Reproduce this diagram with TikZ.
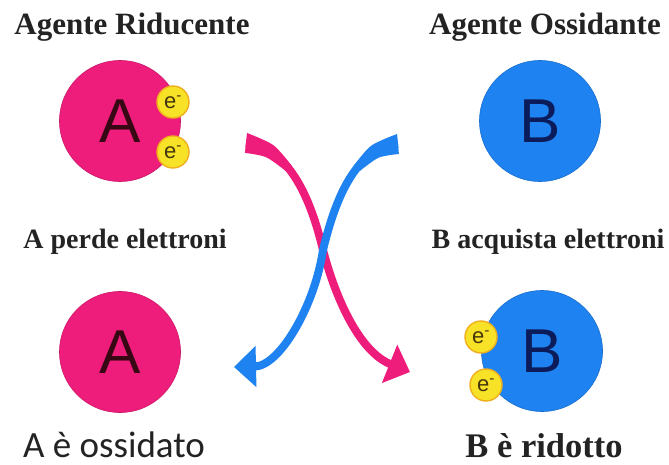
\documentclass[tikz,border=0pt]{standalone}
\usepackage{fontspec}
\setmainfont{Liberation Serif}
\newfontfamily\atomfont{Liberation Sans}
\newfontfamily\capfont{Carlito}
\usetikzlibrary{arrows.meta, positioning}

\definecolor{redpink}{RGB}{238,28,122}
\definecolor{oxblue}{RGB}{30,130,240}
\definecolor{Adark}{RGB}{55,8,20}
\definecolor{Bdark}{RGB}{12,28,90}
\definecolor{elecyellow}{RGB}{247,226,40}
\definecolor{elecorange}{RGB}{240,175,30}
\definecolor{electext}{RGB}{70,55,10}
\definecolor{labelgray}{RGB}{35,35,35}

\begin{document}
\begin{tikzpicture}[
    x=1pt, y=-1pt,
    atom/.style={circle, inner sep=0pt, minimum size=121pt,
                 font=\atomfont\fontsize{62}{62}\selectfont},
    atomA/.style={atom, fill=redpink, draw=redpink!85!black, line width=0.6pt, text=Adark},
    atomB/.style={atom, fill=oxblue, draw=oxblue!85!black, line width=0.6pt, text=Bdark},
    elec/.style={circle, inner sep=0pt, minimum size=32pt, fill=elecyellow,
                 draw=elecorange, line width=1.4pt, text=electext,
                 font=\atomfont\fontsize{22}{22}\selectfont},
    title/.style={anchor=base, text=labelgray, font=\bfseries\fontsize{31}{31}\selectfont},
    step label/.style={anchor=base, text=labelgray, font=\bfseries\fontsize{28}{28}\selectfont},
    flow/.style={line width=8pt, -{Triangle[width=40pt,length=22pt]}}
]
\useasboundingbox[fill=white] (0,0) rectangle (669,465);

% Atoms before the transfer
\node[atomA] (a0) at (120,121) {A};
\node[elec] (ea1) at (173,102) {e\textsuperscript{-}};
\node[elec] (ea2) at (173,152) {e\textsuperscript{-}};
\node[atomB] (b0) at (540,121) {B};

% Atoms after the transfer
\node[atomA] (a1) at (120,352) {A};
\node[atomB] (b1) at (542,351) {B};
\node[elec] (eb1) at (481,337) {e\textsuperscript{-}};
\node[elec] (eb2) at (486,385) {e\textsuperscript{-}};

% Crossing arrows
\coordinate (pinkS) at (246,143);
\coordinate (pinkX) at (323,250);
\coordinate (pinkE) at (410,372);
\coordinate (blueS) at (398,144);
\coordinate (blueE) at (234,367);
\draw[flow, redpink] (pinkS) .. controls (290,148) and (311,200) .. (pinkX)
    .. controls (336,300) and (360,352) .. (pinkE);
% wider tail
\fill[redpink] plot[smooth] coordinates {(247,133) (273.4,145.2) (291.8,165.9)}
    -- plot[smooth] coordinates {(285.6,170.9) (266.1,157.2) (244.9,152.9)} -- cycle;
\draw[flow, oxblue] (blueS) .. controls (355,148) and (335,200) .. (pinkX)
    .. controls (315,305) and (280,366) .. (blueE);
\fill[oxblue] plot[smooth] coordinates {(397.1,134) (371.2,145.7) (353.5,166.1)}
    -- plot[smooth] coordinates {(359.7,171.1) (378.6,157.7) (398.9,154)} -- cycle;

% Labels
\node[title] (tr) at (132,35) {Agente Riducente};
\node[title] (to) at (545,35) {Agente Ossidante};
\node[step label] (sa) at (125,248) {A perde elettroni};
\node[step label] (sb) at (548,248) {B acquista elettroni};
\node[anchor=base, text=labelgray, font=\capfont\fontsize{37}{37}\selectfont] (ra) at (114,457) {A è ossidato};
\node[anchor=base, text=labelgray, font=\bfseries\fontsize{34.5}{34.5}\selectfont] (rb) at (544,457) {B è ridotto};
\end{tikzpicture}
\end{document}
